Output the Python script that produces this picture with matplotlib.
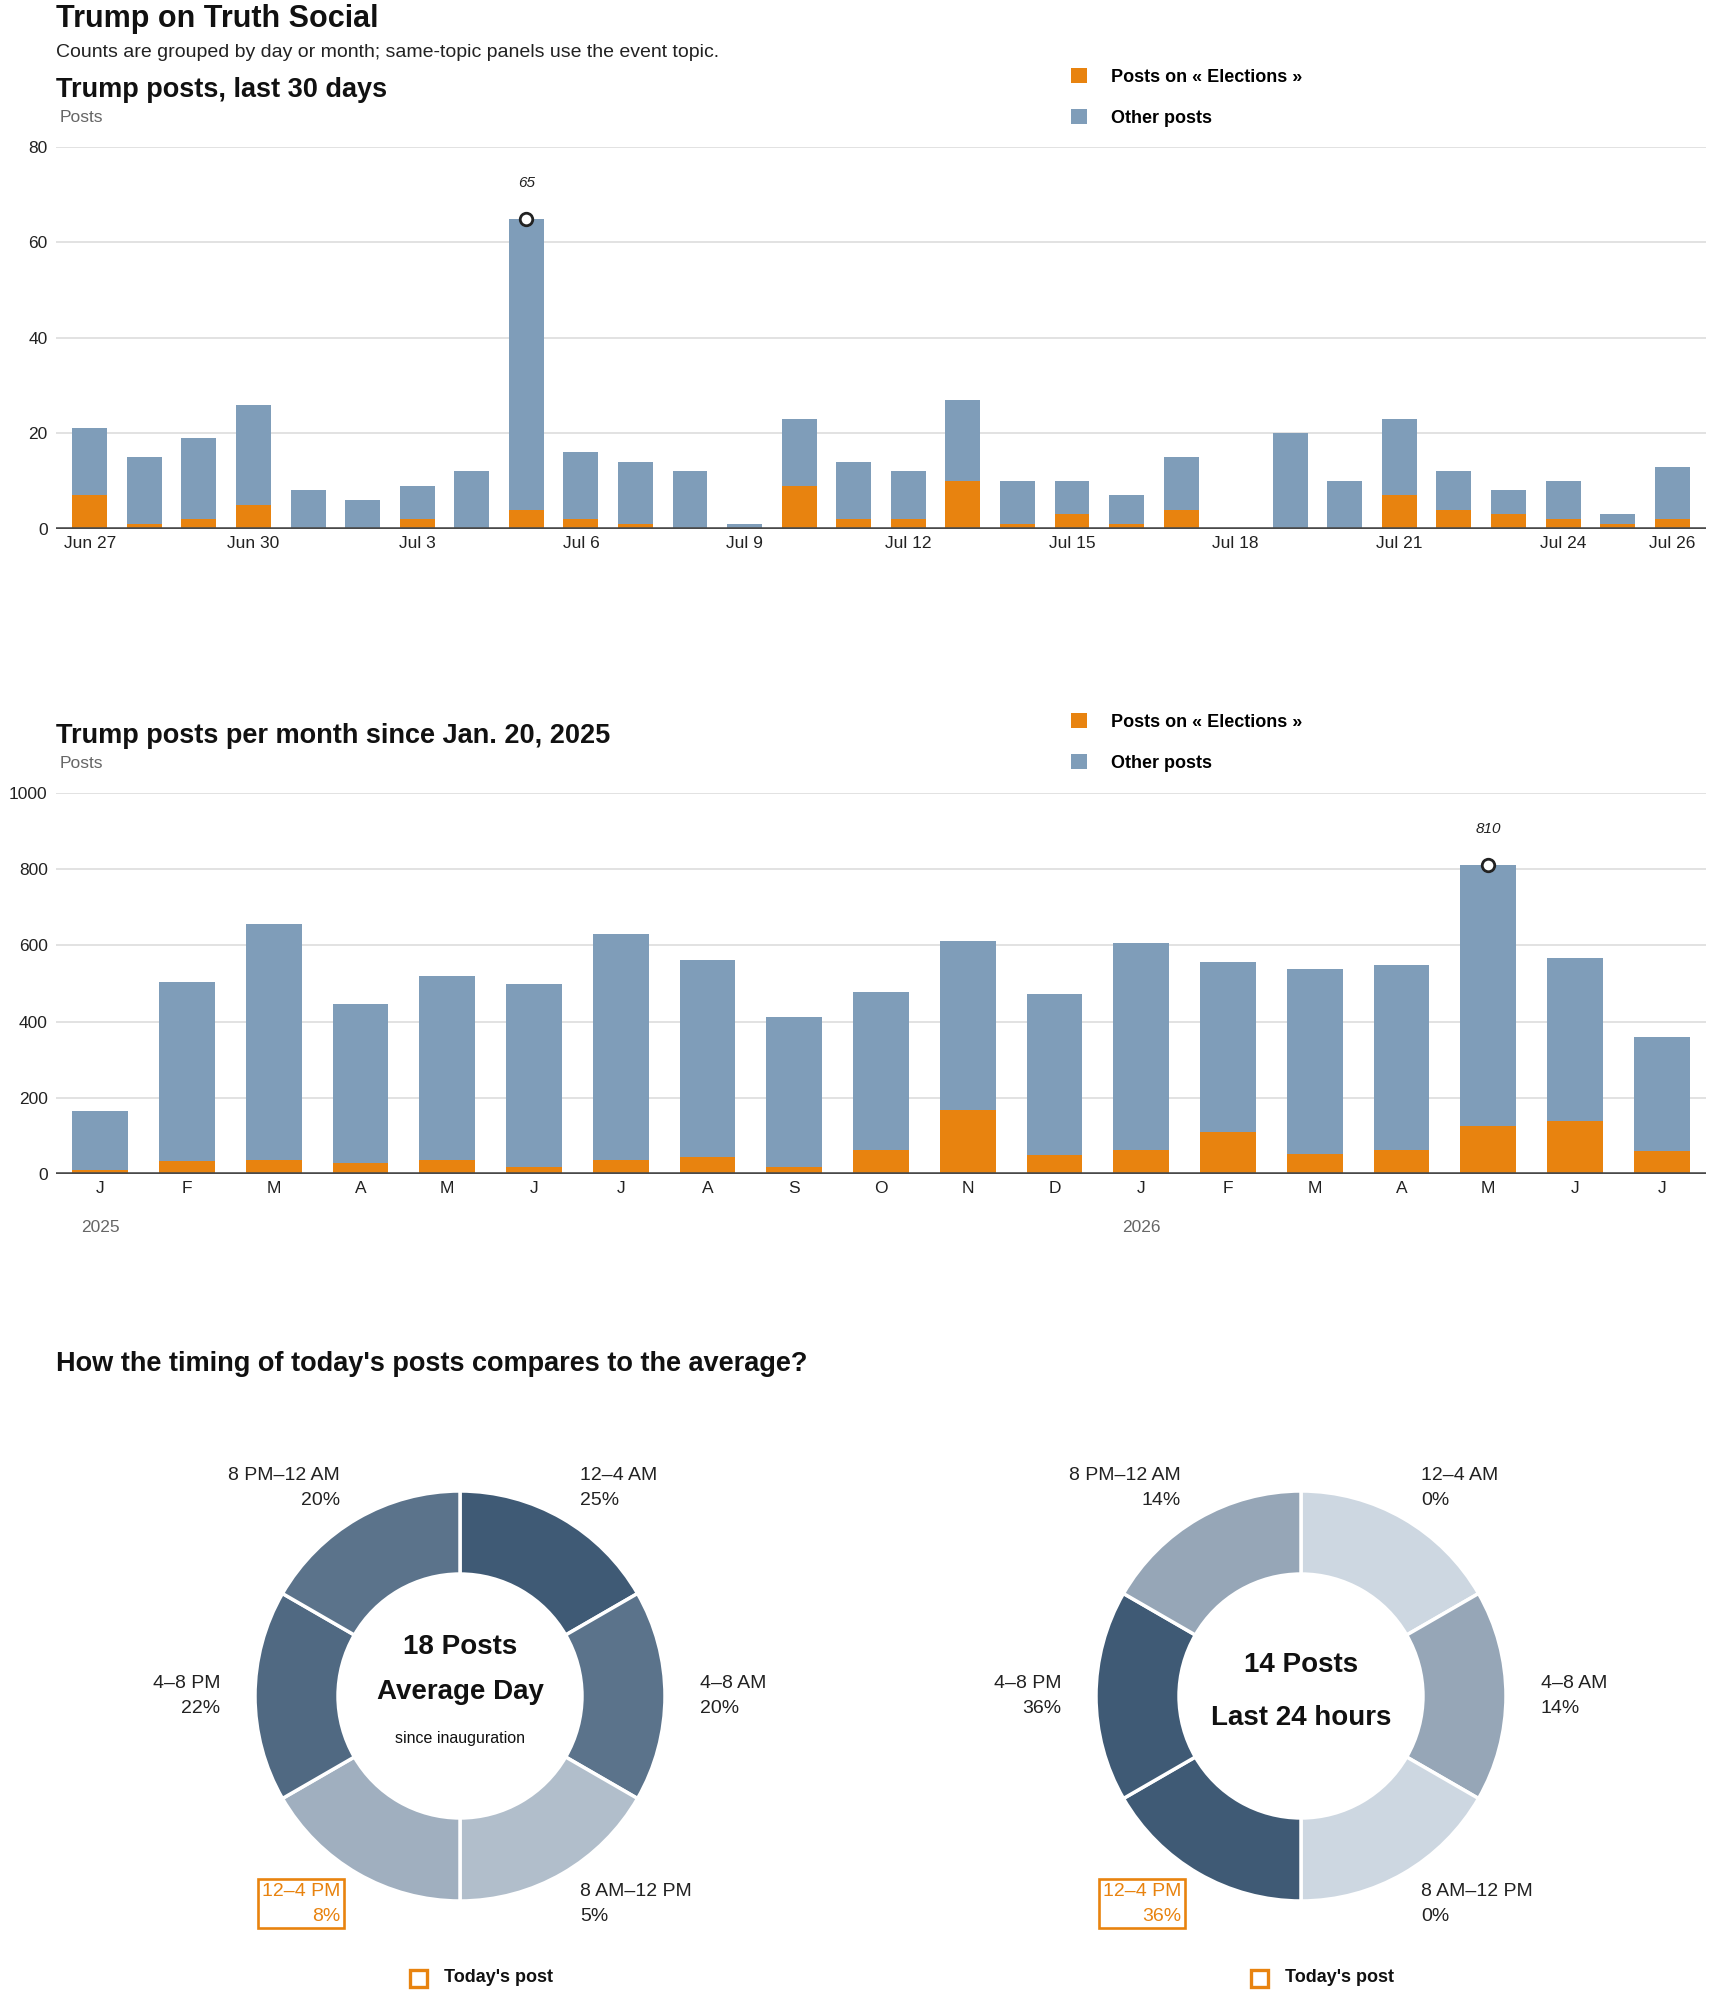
import numpy as np
import pandas as pd
import matplotlib
matplotlib.use("Agg")
import matplotlib.pyplot as plt
from matplotlib.colors import LinearSegmentedColormap
from matplotlib.patches import Rectangle

plt.rcParams['font.family'] = ['Liberation Sans', 'DejaVu Sans']

# ---- data ----
day_start = "2026-06-27"
day_total = [21, 15, 19, 26, 8, 6, 9, 12, 65, 16, 14, 12, 1, 23, 14,
             12, 27, 10, 10, 7, 15, 0, 20, 10, 23, 12, 8, 10, 3, 13]
day_elections = [7, 1, 2, 5, 0, 0, 2, 0, 4, 2, 1, 0, 0, 9, 2,
                 2, 10, 1, 3, 1, 4, 0, 0, 0, 7, 4, 3, 2, 1, 2]
day_tick_idx = [0, 3, 6, 9, 12, 15, 18, 21, 24, 27, 29]

month_labels = ['J', 'F', 'M', 'A', 'M', 'J', 'J', 'A', 'S', 'O', 'N', 'D',
                'J', 'F', 'M', 'A', 'M', 'J', 'J']
month_years = [2025] * 12 + [2026] * 7
month_total = [165, 505, 655, 447, 520, 500, 630, 562, 412, 478, 612, 473,
               607, 557, 538, 549, 810, 567, 360]
month_elections = [10, 34, 38, 30, 38, 19, 38, 45, 19, 64, 169, 51,
                   64, 109, 53, 64, 126, 139, 60]

slots = ['12–4 AM', '4–8 AM', '8 AM–12 PM', '12–4 PM', '4–8 PM', '8 PM–12 AM']
avg_pct = [25, 20, 5, 8, 22, 20]
today_pct = [0, 14, 0, 36, 36, 14]
avg_posts = 18
today_posts = 14
today_slot = '12–4 PM'

ORANGE = '#e8830f'
BLUE = '#7f9db9'
GRID = '#dddddd'
W, H = 1710, 1993

fig = plt.figure(figsize=(W / 100, H / 100), dpi=100)


def box(l, t, r, b):
    return fig.add_axes([l / W, 1 - b / H, (r - l) / W, (b - t) / H])


def ftext(x, y, s, **kw):
    return fig.text(x / W, 1 - y / H, s, **kw)


def bar_panel(ax, total, elections, ticks, ticklabels, ymax, ystep, width, pad_x):
    total = np.array(total)
    elections = np.array(elections)
    x = np.arange(len(total))
    b1 = ax.bar(x, elections, width=width, color=ORANGE, zorder=2)
    b2 = ax.bar(x, total - elections, bottom=elections, width=width, color=BLUE, zorder=2)
    ax.set_xlim(-pad_x, len(total) - 1 + pad_x)
    ax.set_ylim(0, ymax)
    ax.set_yticks(np.arange(0, ymax + 1, ystep))
    ax.grid(axis='y', color=GRID, lw=1.2, zorder=0)
    ax.set_axisbelow(True)
    for s in ax.spines.values():
        s.set_visible(False)
    ax.axhline(0, color='#4a4a4a', lw=2.6, zorder=3)
    ax.set_xticks(ticks)
    ax.set_xticklabels(ticklabels)
    ax.tick_params(axis='both', length=0, labelsize=12.5, colors='#222222')
    ax.tick_params(axis='y', pad=6)
    ax.tick_params(axis='x', pad=5)
    # highlight the maximum
    i = int(np.argmax(total))
    ax.plot(i, total[i], 'o', ms=9, mfc='white', mec='#222222', mew=2, zorder=4, clip_on=False)
    ax.annotate(str(total[i]), (i, total[i]), xytext=(0, 36), textcoords='offset pixels',
                ha='center', va='center', fontsize=11, style='italic', color='#222222')
    return b1, b2


def add_legend(ax, handles, top):
    ax.legend(handles, ['Posts on « Elections »', 'Other posts'], loc='upper left',
              bbox_to_anchor=(1071 / W, 1 - top / H), bbox_transform=fig.transFigure,
              frameon=False, borderpad=0, borderaxespad=0, handlelength=0.88,
              handleheight=0.88, handletextpad=1.35, labelspacing=1.3,
              prop={'weight': 'bold', 'size': 13})


# ---- header ----
ftext(56, 27, 'Trump on Truth Social', fontsize=22, weight='bold', color='#111111')
ftext(56, 57, 'Counts are grouped by day or month; same-topic panels use the event topic.',
      fontsize=14, color='#222222')

# ---- daily panel ----
days = pd.date_range(day_start, periods=len(day_total))
day_labels = [d.strftime('%b ') + str(d.day) for d in days]
ftext(56, 97, 'Trump posts, last 30 days', fontsize=19.5, weight='bold', color='#111111')
ftext(60, 122, 'Posts', fontsize=12.5, color='#666666')
ax1 = box(56, 147, 1706, 528.6)
h = bar_panel(ax1, day_total, day_elections, day_tick_idx,
              [day_labels[i] for i in day_tick_idx], 80, 20, 0.64, 0.62)
add_legend(ax1, h, 68)

# ---- monthly panel ----
ftext(56, 743, 'Trump posts per month since Jan. 20, 2025', fontsize=19.5, weight='bold',
      color='#111111')
ftext(60, 768, 'Posts', fontsize=12.5, color='#666666')
ax2 = box(56, 793, 1706, 1174)
h = bar_panel(ax2, month_total, month_elections, range(len(month_total)), month_labels,
              1000, 200, 0.645, 0.51)
add_legend(ax2, h, 713)
for i, yr in enumerate(month_years):
    if i == 0 or yr != month_years[i - 1]:
        ax2.annotate(str(yr), (i, 0), xytext=(0, -53), textcoords='offset pixels',
                     ha='center', va='center', fontsize=12.5, color='#666666')

# ---- donuts ----
ftext(56, 1371, "How the timing of today's posts compares to the average?", fontsize=19.5,
      weight='bold', color='#111111')

cmap = LinearSegmentedColormap.from_list('slate', ['#cdd7e1', '#3f5a75'])
R = 205.0


def donut(cx, pct, center_lines):
    ax = box(cx - 310, 1696 - 310, cx + 310, 1696 + 310)
    lim = 310 / R
    colors = [cmap(p / max(pct)) for p in pct]
    ax.pie([1] * len(pct), radius=1, startangle=90, counterclock=False, colors=colors,
           wedgeprops=dict(width=0.405, edgecolor='white', linewidth=2.5))
    ax.set_xlim(-lim, lim)
    ax.set_ylim(-lim, lim)
    ax.set_aspect('equal')
    ax.axis('off')
    r = 240 / R
    for k, (name, p) in enumerate(zip(slots, pct)):
        a = np.deg2rad(30 + 60 * k)
        x, y = r * np.sin(a), r * np.cos(a)
        ha = 'left' if x > 0 else 'right'
        kw = dict(ha=ha, va='center', fontsize=14, color='#222222', linespacing=1.6)
        if name == today_slot:
            kw['color'] = ORANGE
            kw['bbox'] = dict(boxstyle='square,pad=0.18', fc='none', ec=ORANGE, lw=1.9)
        ax.text(x, y, f'{name}\n{p}%', **kw)
    for txt, dy, size, wt in center_lines:
        ax.text(0, dy / R, txt, ha='center', va='center', fontsize=size, weight=wt,
                color='#111111')
    # today's post key
    fig.patches.append(Rectangle(((cx - 50) / W, 1 - 1987 / H), 17 / W, 17 / H,
                                 transform=fig.transFigure, fill=False, ec=ORANGE, lw=2.4))
    ftext(cx - 16, 1978, "Today's post", fontsize=13, weight='bold', va='center',
          color='#111111')


donut(460, avg_pct, [(f'{avg_posts} Posts', 49, 20, 'bold'),
                     ('Average Day', 4, 20, 'bold'),
                     ('since inauguration', -43, 11.5, 'normal')])
donut(1301, today_pct, [(f'{today_posts} Posts', 31, 20, 'bold'),
                        ('Last 24 hours', -22, 20, 'bold')])

fig.savefig('out.png', dpi=100, facecolor='white')
